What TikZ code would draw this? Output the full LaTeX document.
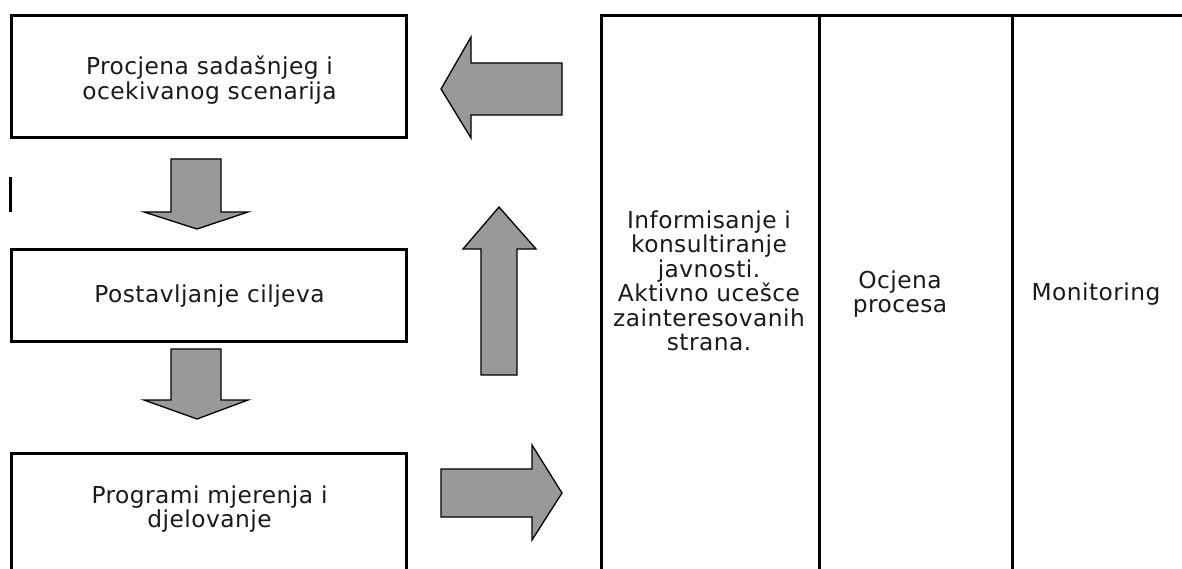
\documentclass[tikz,border=0pt]{standalone}
\usepackage{fontspec}
\setmainfont[LetterSpace=2]{DejaVu Sans}
\definecolor{inkc}{HTML}{1A1A1A}
\definecolor{arrowfill}{HTML}{999999}
\begin{document}
\begin{tikzpicture}[x=1pt,y=-1pt,
  frame/.style={draw=black,line width=3pt},
  stepbox/.style={frame,minimum width=395pt,inner sep=0pt},
  label/.style={text=inkc,align=center,inner sep=0pt,
    font=\fontsize{23.3}{24.5}\selectfont},
  blockarrow/.style={draw=black,fill=arrowfill,line width=1.3pt,line join=miter}]
\useasboundingbox (0,0) rectangle (1182,569);

% left column: process steps
\node[stepbox,minimum height=122pt] (s1) at (209,76.5) {};
\node[label] (t1) at (209.5,80) {Procjena sadašnjeg i\\ocekivanog scenarija};
\node[stepbox,minimum height=92pt] (s2) at (209,295.5) {};
\node[label] (t2) at (209.5,296) {Postavljanje ciljeva};
\draw[frame] (11.5,569) -- (11.5,453.5) -- (406.5,453.5) -- (406.5,569);
\node[label] (t3) at (209.5,509) {Programi mjerenja i\\djelovanje};

% short mark at the left margin
\draw[line width=3pt] (10.5,177) -- (10.5,212);

% downward block arrows between the steps
\draw[blockarrow] (171,159) -- (221,159) -- (221,212) -- (248,212) -- (197,229)
  -- (144,212) -- (171,212) -- cycle;
\draw[blockarrow] (171,349) -- (221,349) -- (221,400) -- (248,400) -- (197,419)
  -- (144,400) -- (171,400) -- cycle;

% arrows linking the steps with the right-hand panel
\draw[blockarrow] (562,63) -- (471,63) -- (471,37) -- (441,89) -- (471,138)
  -- (471,115) -- (562,115) -- cycle;
\draw[blockarrow] (481,375) -- (481,249) -- (463,249) -- (499,207) -- (536,249)
  -- (517,249) -- (517,375) -- cycle;
\draw[blockarrow] (441,469) -- (532,469) -- (532,445) -- (562,493) -- (532,540)
  -- (532,517) -- (441,517) -- cycle;

% right-hand panel with three columns
\draw[frame] (601.5,569) -- (601.5,15.5) -- (1182,15.5);
\draw[frame] (819,15.5) -- (819,569);
\draw[frame] (1012.5,15.5) -- (1012.5,569);
\node[label] (c1) at (709,281) {Informisanje i\\konsultiranje\\javnosti.\\Aktivno ucešce\\zainteresovanih\\strana.};
\node[label] (c2) at (900,294) {Ocjena\\procesa};
\node[label] (c3) at (1096,294) {Monitoring};
\end{tikzpicture}
\end{document}
